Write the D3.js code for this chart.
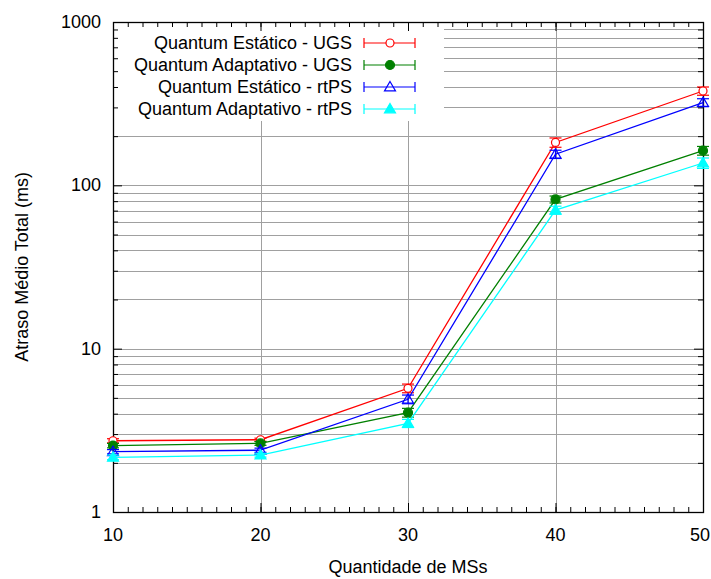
<!DOCTYPE html>
<html>
<head>
<meta charset="utf-8">
<script src="https://cdn.jsdelivr.net/npm/d3@7"></script>
<style>
  body { margin: 0; background: #fff; }
  text { font-family: "Liberation Sans", Arial, sans-serif; fill: #000; }
</style>
</head>
<body>
<div id="chart"></div>
<script>
// x categories (number of MSs)
var qtdMS = [10, 20, 30, 40, 50];

// mean total delay (ms)
var estUGS   = [2.73, 2.77, 5.72, 183, 378];
var adpUGS   = [2.55, 2.63, 4.06, 82, 163];
var estRtps  = [2.34, 2.39, 4.9, 155, 321];
var adpRtps  = [2.16, 2.23, 3.49, 70.5, 137];

// half-width of the error bars
var estUGSErr  = [0.08, 0.06, 0.35, 12, 22];
var adpUGSErr  = [0.08, 0.07, 0.25, 4, 10];
var estRtpsErr = [0.07, 0.07, 0.3, 9, 18];
var adpRtpsErr = [0.07, 0.06, 0.2, 4, 10];

var seriesNames = ["Quantum Estático - UGS", "Quantum Adaptativo - UGS",
                   "Quantum Estático - rtPS", "Quantum Adaptativo - rtPS"];
var yTickLabels = ["1", "10", "100", "1000"];

var series = [
  {name: seriesNames[0], vals: estUGS,  err: estUGSErr,  color: "#ff0000", marker: "circle",   fill: false},
  {name: seriesNames[1], vals: adpUGS,  err: adpUGSErr,  color: "#008000", marker: "circle",   fill: true},
  {name: seriesNames[2], vals: estRtps, err: estRtpsErr, color: "#0000ff", marker: "triangle", fill: false},
  {name: seriesNames[3], vals: adpRtps, err: adpRtpsErr, color: "#00ffff", marker: "triangle", fill: true}
];

var W = 711, H = 579;
var pL = 113, pR = 703, pT = 22, pB = 512;
var fs = "18px";

var svg = d3.select("#chart").append("svg")
    .attr("width", W)
    .attr("height", H);

var x = d3.scaleLinear().domain([10, 50]).range([pL, pR]);
var y = d3.scaleLog().domain([1, 1000]).range([pB, pT]);

// minor values on the log axis
var yMinor = [];
for (var k = 0; k < 3; k++) {
    for (var m = 2; m <= 9; m++) yMinor.push(m * Math.pow(10, k));
}
var yMajor = [1, 10, 100, 1000];
var xMinor = d3.range(10, 51, 1);

// grid
var grid = svg.append("g").attr("stroke", "#a0a0a0").attr("stroke-width", 1);
grid.selectAll("line.h").data(yMinor.concat(yMajor)).enter().append("line")
    .attr("x1", pL).attr("x2", pR)
    .attr("y1", function(d) { return Math.round(y(d)) + 0.5; })
    .attr("y2", function(d) { return Math.round(y(d)) + 0.5; });
grid.selectAll("line.v").data(qtdMS).enter().append("line")
    .attr("y1", pT).attr("y2", pB)
    .attr("x1", function(d) { return Math.round(x(d)) + 0.5; })
    .attr("x2", function(d) { return Math.round(x(d)) + 0.5; });

// opaque key background
svg.append("rect")
    .attr("x", pL).attr("y", pT)
    .attr("width", 331).attr("height", 99)
    .attr("fill", "#fff");

// ticks (inward), drawn with d3 axes
function tickAxis(axisFn, scale, vals, size, transform) {
    var g = svg.append("g")
        .attr("transform", transform)
        .call(axisFn(scale).tickValues(vals).tickSize(size).tickFormat(""));
    g.select(".domain").remove();
    g.selectAll("line").attr("stroke", "#000");
    return g;
}
tickAxis(d3.axisBottom, x, xMinor, -5, "translate(0," + pB + ")");
tickAxis(d3.axisBottom, x, qtdMS, -9, "translate(0," + pB + ")");
tickAxis(d3.axisTop, x, xMinor, -5, "translate(0," + pT + ")");
tickAxis(d3.axisTop, x, qtdMS, -9, "translate(0," + pT + ")");
tickAxis(d3.axisLeft, y, yMinor, -5, "translate(" + pL + ",0)");
tickAxis(d3.axisLeft, y, yMajor, -9, "translate(" + pL + ",0)");
tickAxis(d3.axisRight, y, yMinor, -5, "translate(" + pR + ",0)");
tickAxis(d3.axisRight, y, yMajor, -9, "translate(" + pR + ",0)");

// border
svg.append("rect")
    .attr("x", pL + 0.5).attr("y", pT + 0.5)
    .attr("width", pR - pL).attr("height", pB - pT)
    .attr("fill", "none").attr("stroke", "#000").attr("stroke-width", 1.3);

// tick labels (last one pulled in so it stays inside the page)
svg.selectAll("text.xt").data(qtdMS).enter().append("text")
    .attr("x", function(d) { return Math.min(x(d), W - 11); })
    .attr("y", 541)
    .attr("text-anchor", "middle")
    .attr("font-size", fs)
    .text(function(d) { return d; });
svg.selectAll("text.yt").data(yMajor).enter().append("text")
    .attr("x", 101)
    .attr("y", function(d) { return y(d) + 6; })
    .attr("text-anchor", "end")
    .attr("font-size", fs)
    .text(function(d, i) { return yTickLabels[i]; });

// axis titles
svg.append("text")
    .attr("x", 408).attr("y", 573)
    .attr("text-anchor", "middle")
    .attr("font-size", fs)
    .text("Quantidade de MSs");
svg.append("text")
    .attr("transform", "translate(28,267) rotate(-90)")
    .attr("text-anchor", "middle")
    .attr("font-size", fs)
    .text("Atraso Médio Total (ms)");

// markers
function drawMarker(g, s, cx, cy) {
    if (s.marker === "circle") {
        g.append("circle")
            .attr("cx", cx).attr("cy", cy)
            .attr("r", s.fill ? 4.5 : 4)
            .attr("fill", s.fill ? s.color : "#fff")
            .attr("stroke", s.color).attr("stroke-width", 1.2);
    } else {
        var r = 5.5;
        g.append("path")
            .attr("d", "M" + cx + "," + (cy - r) + "L" + (cx + r) + "," + (cy + r * 0.7) +
                       "L" + (cx - r) + "," + (cy + r * 0.7) + "Z")
            .attr("fill", s.fill ? s.color : "none")
            .attr("stroke", s.color).attr("stroke-width", 1.2);
    }
}

var line = d3.line()
    .x(function(d) { return x(d[0]); })
    .y(function(d) { return y(d[1]); });

series.forEach(function(s) {
    var g = svg.append("g");
    var pts = qtdMS.map(function(q, i) { return [q, s.vals[i], s.err[i]]; });
    g.append("path")
        .attr("d", line(pts))
        .attr("fill", "none")
        .attr("stroke", s.color)
        .attr("stroke-width", 1.3);
    pts.forEach(function(p) {
        var cx = x(p[0]);
        var y0 = y(p[1] - p[2]), y1 = y(p[1] + p[2]);
        g.append("line").attr("x1", cx).attr("x2", cx).attr("y1", y0).attr("y2", y1)
            .attr("stroke", s.color).attr("stroke-width", 1.2);
        [y0, y1].forEach(function(yy) {
            g.append("line").attr("x1", cx - 6).attr("x2", cx + 6).attr("y1", yy).attr("y2", yy)
                .attr("stroke", s.color).attr("stroke-width", 1.2);
        });
        drawMarker(g, s, cx, y(p[1]));
    });
});

// legend
var keyRows = [43, 65, 87, 109];
series.forEach(function(s, i) {
    var g = svg.append("g");
    var ky = keyRows[i];
    g.append("text")
        .attr("x", 352).attr("y", ky + 6)
        .attr("text-anchor", "end")
        .attr("font-size", fs)
        .text(s.name);
    g.append("line").attr("x1", 364).attr("x2", 415).attr("y1", ky).attr("y2", ky)
        .attr("stroke", s.color).attr("stroke-width", 1.2);
    [364, 415].forEach(function(xx) {
        g.append("line").attr("x1", xx).attr("x2", xx).attr("y1", ky - 5).attr("y2", ky + 5)
            .attr("stroke", s.color).attr("stroke-width", 1.2);
    });
    drawMarker(g, s, 390, ky);
});
</script>
</body>
</html>
